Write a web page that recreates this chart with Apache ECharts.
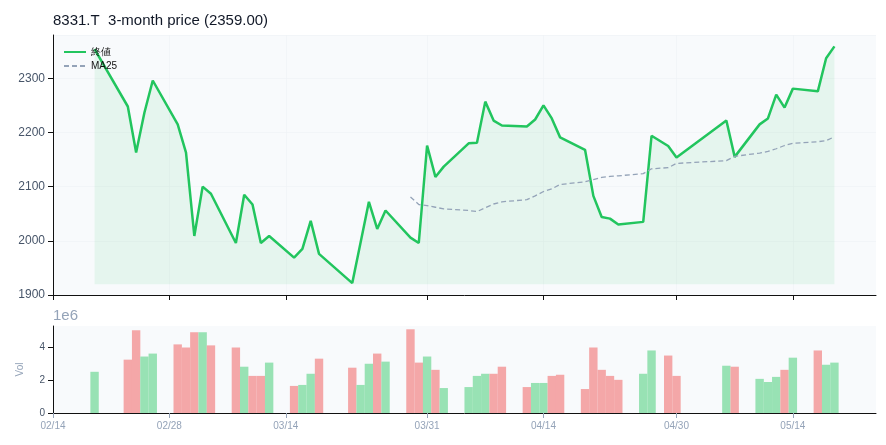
<!DOCTYPE html>
<html lang="en">
<head>
<meta charset="UTF-8">
<title>8331.T</title>
<script src="https://cdn.jsdelivr.net/npm/echarts@6/dist/echarts.min.js"></script>
<style>body{margin:0}#main{width:886px;height:445px}</style>
</head>
<body>
<div id="main"></div>
<script>
// days counted from 2025-02-14
var tickDays = [0, 14, 28, 45, 59, 75, 89];
var tickLabels = ['02/14', '02/28', '03/14', '03/31', '04/14', '04/30', '05/14'];

var days = [5, 9, 10, 11, 12, 15, 16, 17, 18, 19, 22, 23, 24, 25, 26, 29, 30, 31, 32,
    36, 37, 38, 39, 40, 43, 44, 45, 46, 47, 50, 51, 52, 53, 54, 57, 58, 59, 60, 61,
    64, 65, 66, 67, 68, 71, 72, 74, 75, 81, 82, 85, 86, 87, 88, 89, 92, 93, 94];
var close = [2354, 2248, 2163, 2237, 2296, 2215, 2163, 2009, 2100, 2087, 1996, 2085, 2067, 1996, 2009, 1969, 1985, 2037, 1976,
    1922, 1997, 2072, 2022, 2056, 2006, 1996, 2176, 2118, 2137, 2180, 2181, 2257, 2222, 2213, 2211, 2224, 2250, 2226, 2191,
    2168, 2083, 2044, 2041, 2030, 2035, 2194, 2175, 2154, 2222, 2155, 2215, 2226, 2270, 2246, 2281, 2276, 2337, 2359];
var volume = [2.51, 3.25, 5.04, 3.44, 3.62, 4.18, 3.99, 4.92, 4.92, 4.12, 3.99, 2.82, 2.26, 2.26, 3.07, 1.65, 1.71, 2.39, 3.31,
    2.76, 1.71, 3.0, 3.62, 3.13, 5.1, 3.07, 3.44, 2.63, 1.52, 1.58, 2.26, 2.39, 2.39, 2.82, 1.58, 1.83, 1.83, 2.26, 2.33,
    1.46, 3.99, 2.63, 2.26, 2.02, 2.39, 3.81, 3.5, 2.26, 2.88, 2.82, 2.08, 1.89, 2.2, 2.63, 3.37, 3.81, 2.94, 3.07];
var maStart = 24; // index in days where MA25 begins
var ma25 = [2081, 2067, 2065, 2062, 2059, 2056, 2054, 2061, 2068, 2072, 2076, 2083, 2091, 2096, 2104,
    2109, 2113, 2117, 2119, 2120, 2124, 2133, 2135, 2143, 2148, 2156, 2162, 2165, 2170, 2176, 2180, 2183, 2185, 2192];

var priceData = days.map(function (d, i) { return [d, close[i]]; });
var maData = ma25.map(function (v, i) { return [days[maStart + i], v]; });
var volData = days.map(function (d, i) {
    var up = i === 0 || close[i] >= close[i - 1];
    return { value: [d, volume[i] * 1e6], itemStyle: { color: up ? '#98e2b4' : '#f4a7a8' } };
});

var chart = echarts.init(document.getElementById('main'));
var xBase = { type: 'value', min: 0, max: 99, splitLine: { show: false } };
chart.setOption({
    animation: false,
    title: { text: '8331.T  3-month price (2359.00)', left: 48, top: 8,
        textStyle: { fontSize: 15, fontWeight: 'normal', color: '#111827' } },
    legend: {
        orient: 'vertical', left: 58, top: 42, itemWidth: 22, itemHeight: 8, itemGap: 4,
        itemStyle: { opacity: 0 },
        textStyle: { fontSize: 10, color: '#111' },
        data: ['終値', 'MA25']
    },
    grid: [
        { left: 53, right: 10, top: 35, height: 260, backgroundColor: '#f8fafc', show: true, borderWidth: 0 },
        { left: 53, right: 10, top: 326, height: 87, backgroundColor: '#f8fafc', show: true, borderWidth: 0 }
    ],
    xAxis: [
        Object.assign({}, xBase, { gridIndex: 0,
            axisLine: { lineStyle: { color: '#111' } },
            axisTick: { customValues: tickDays, lineStyle: { color: '#111' } },
            axisLabel: { show: false },
            splitLine: { show: true, lineStyle: { color: '#eef1f5', width: 0.6 } } }),
        Object.assign({}, xBase, { gridIndex: 1,
            axisLine: { lineStyle: { color: '#111' } },
            axisTick: { customValues: tickDays, lineStyle: { color: '#94a3b8' } },
            axisLabel: { customValues: tickDays, fontSize: 10, color: '#94a3b8',
                formatter: function (v) { return tickLabels[tickDays.indexOf(v)] || ''; } } })
    ],
    yAxis: [
        { gridIndex: 0, type: 'value', min: 1900, max: 2380, interval: 100,
          axisLine: { show: true, lineStyle: { color: '#111' } }, axisTick: { show: true },
          axisLabel: { color: '#475569', fontSize: 12, showMaxLabel: false,
              formatter: function (v) { return String(v); } },
          splitLine: { lineStyle: { color: '#eef1f5', width: 0.6 } } },
        { gridIndex: 1, type: 'value', min: 0, max: 5.3e6, interval: 2e6,
          name: 'Vol', nameLocation: 'middle', nameGap: 28,
          nameTextStyle: { color: '#94a3b8', fontSize: 10 },
          axisLine: { show: true, lineStyle: { color: '#111' } }, axisTick: { show: true },
          axisLabel: { color: '#475569', fontSize: 10, showMaxLabel: false,
              formatter: function (v) { return String(v / 1e6); } },
          splitLine: { show: false } }
    ],
    graphic: [{ type: 'text', left: 53, top: 308, style: { text: '1e6', fontSize: 15, fill: '#94a3b8' } }],
    series: [
        { name: '終値', type: 'line', data: priceData, symbol: 'none',
          lineStyle: { color: '#22c55e', width: 2.5 }, itemStyle: { color: '#22c55e' },
          areaStyle: { color: 'rgba(34,197,94,0.12)', origin: 1920 } },
        { name: 'MA25', type: 'line', data: maData, symbol: 'none',
          lineStyle: { color: '#94a3b8', width: 1.3, type: [5, 3] }, itemStyle: { color: '#94a3b8' } },
        { name: 'Vol', type: 'bar', xAxisIndex: 1, yAxisIndex: 1, data: volData, barWidth: 8.4 }
    ]
});
</script>
</body>
</html>
